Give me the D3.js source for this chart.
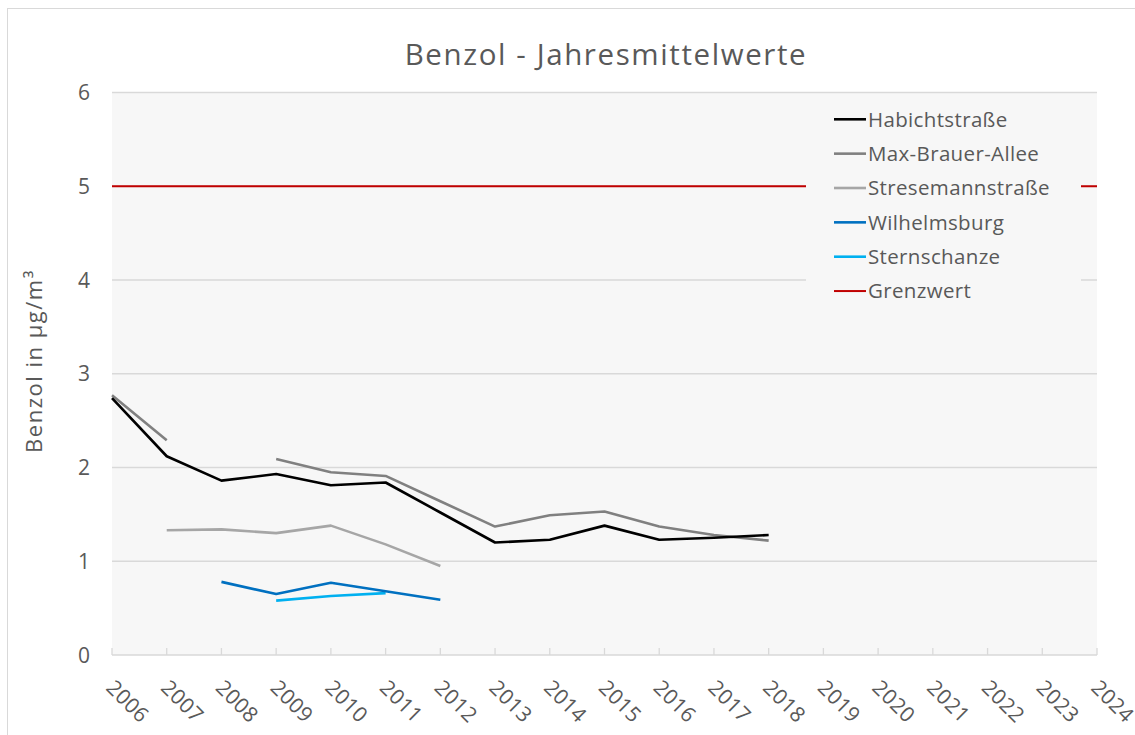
<!DOCTYPE html>
<html>
<head>
<meta charset="utf-8">
<script src="https://cdn.jsdelivr.net/npm/d3@7"></script>
<style>
  body { margin: 0; background: #fff; }
  text { font-family: "Open Sans", "Noto Sans", sans-serif; fill: #595959; }
</style>
</head>
<body>
<svg id="chart" width="1135" height="735"></svg>
<script>
const years = d3.range(2006, 2025);
const yTicks = [0, 1, 2, 3, 4, 5, 6];

const habichtstrasse = [2.74, 2.12, 1.86, 1.93, 1.81, 1.84, 1.52, 1.20, 1.23, 1.38, 1.23, 1.25, 1.28];
const maxBrauerAllee = [2.77, 2.29, null, 2.09, 1.95, 1.91, 1.64, 1.37, 1.49, 1.53, 1.37, 1.28, 1.22];
const stresemannstrasse = [null, 1.33, 1.34, 1.30, 1.38, 1.18, 0.95];
const wilhelmsburg = [null, null, 0.78, 0.65, 0.77, 0.68, 0.59];
const sternschanze = [null, null, null, 0.58, 0.63, 0.66];
const grenzwert = years.map(() => 5);

const seriesNames = ["Habichtstraße", "Max-Brauer-Allee", "Stresemannstraße", "Wilhelmsburg", "Sternschanze", "Grenzwert"];
const seriesColors = ["#000000", "#808080", "#a6a6a6", "#0070c0", "#00b0f0", "#c00000"];
const seriesValues = [habichtstrasse, maxBrauerAllee, stresemannstrasse, wilhelmsburg, sternschanze, grenzwert];

const svg = d3.select("#chart");
const plotLeft = 112, plotRight = 1097, plotTop = 92.5, plotBottom = 655;

// outer chart frame
svg.append("rect")
    .attr("x", 7.5).attr("y", 8.5)
    .attr("width", 1140).attr("height", 740)
    .attr("fill", "#fff")
    .attr("stroke", "#d9d9d9");

const x = d3.scalePoint().domain(years).range([plotLeft, plotRight]);
const y = d3.scaleLinear().domain([0, 6]).range([plotBottom, plotTop]);

svg.append("rect")
    .attr("x", plotLeft).attr("y", plotTop)
    .attr("width", plotRight - plotLeft).attr("height", plotBottom - plotTop)
    .attr("fill", "#f7f7f7");

// gridlines
svg.append("g")
    .selectAll("line")
    .data(yTicks.filter(d => d > 0))
    .join("line")
    .attr("x1", plotLeft).attr("x2", plotRight)
    .attr("y1", d => y(d)).attr("y2", d => y(d))
    .attr("stroke", "#d9d9d9")
    .attr("stroke-width", 1.3);

// y tick labels
svg.append("g")
    .selectAll("text")
    .data(yTicks)
    .join("text")
    .attr("x", 90)
    .attr("y", d => y(d))
    .attr("dy", "0.36em")
    .attr("text-anchor", "end")
    .style("font-size", "21px")
    .text(d => d);

// x axis with inside ticks
const xAxis = svg.append("g");
xAxis.append("line")
    .attr("x1", plotLeft).attr("x2", plotRight)
    .attr("y1", plotBottom).attr("y2", plotBottom)
    .attr("stroke", "#d9d9d9").attr("stroke-width", 1.5);
xAxis.selectAll(".tick")
    .data(years)
    .join("line")
    .attr("class", "tick")
    .attr("x1", d => x(d)).attr("x2", d => x(d))
    .attr("y1", plotBottom - 7).attr("y2", plotBottom)
    .attr("stroke", "#d9d9d9").attr("stroke-width", 1.3);
xAxis.selectAll(".lbl")
    .data(years)
    .join("text")
    .attr("class", "lbl")
    .attr("transform", d => `translate(${x(d) - 7}, 689) rotate(45)`)
    .style("font-size", "21px")
    .style("letter-spacing", "0.4px")
    .text(d => d);

// series lines
const line = d3.line()
    .defined(d => d != null)
    .x((d, i) => x(years[i]))
    .y(d => y(d));

// Grenzwert first so the legend box covers it
const order = [5, 4, 3, 2, 1, 0];
svg.append("g")
    .selectAll("path")
    .data(order)
    .join("path")
    .attr("d", i => line(seriesValues[i]))
    .attr("fill", "none")
    .attr("stroke", i => seriesColors[i])
    .attr("stroke-width", i => i === 5 ? 2 : 2.6)
    .attr("stroke-linejoin", "round");

// legend
const legend = svg.append("g");
legend.append("rect")
    .attr("x", 806).attr("y", 96)
    .attr("width", 275).attr("height", 216)
    .attr("fill", "#f7f7f7");

const items = legend.selectAll(".item")
    .data(seriesNames)
    .join("g")
    .attr("class", "item")
    .attr("transform", (d, i) => `translate(0, ${119.3 + i * 34.35})`);

items.append("line")
    .attr("x1", 834).attr("x2", 866)
    .attr("y1", 0).attr("y2", 0)
    .attr("stroke", (d, i) => seriesColors[i])
    .attr("stroke-width", (d, i) => i === 5 ? 2 : 2.6);

items.append("text")
    .attr("x", 868)
    .attr("dy", "0.36em")
    .style("font-size", "20.5px")
    .style("letter-spacing", "0.35px")
    .text(d => d);

// title and axis label
svg.append("text")
    .attr("x", 606).attr("y", 65)
    .attr("text-anchor", "middle")
    .style("font-size", "29.5px")
    .style("letter-spacing", "1.6px")
    .text("Benzol - Jahresmittelwerte");

svg.append("text")
    .attr("transform", "translate(42, 361) rotate(-90)")
    .attr("text-anchor", "middle")
    .style("font-size", "22px")
    .style("letter-spacing", "1.5px")
    .text("Benzol in µg/m³");
</script>
</body>
</html>
